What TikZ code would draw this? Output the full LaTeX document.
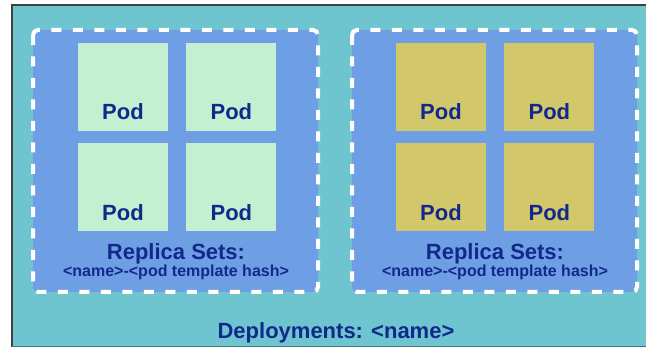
\documentclass[tikz,border=0pt]{standalone}
\usepackage{fontspec}
\setmainfont{Liberation Sans}
\usetikzlibrary{positioning}

\definecolor{deploybg}{HTML}{6EC5CF}
\definecolor{replicabg}{HTML}{6E9FE4}
\definecolor{podgreen}{HTML}{C4EFD1}
\definecolor{podolive}{HTML}{D3C76B}
\definecolor{navytext}{HTML}{12298C}

\begin{document}
\begin{tikzpicture}[
  x=1pt,y=-1pt,
  node distance=12pt and 18pt, % gaps between the pods
  pod/.style={rectangle,inner xsep=0pt,inner ysep=0pt,minimum width=90pt,
    text height=77pt,text depth=11pt,text=navytext,
    font=\bfseries\fontsize{22}{22}\selectfont}, % style of the pods
  replica box/.style={rectangle,fill=replicabg,draw=white,line width=4pt,
    dash pattern=on 10pt off 11.5pt,rounded corners=5pt}, % dashed replica set
  title/.style={text=navytext,font=\bfseries\fontsize{22}{22}\selectfont,inner sep=0pt},
  subtitle/.style={text=navytext,font=\bfseries\fontsize{16}{16}\selectfont,inner sep=0pt}
  ]

  \useasboundingbox (0,0) rectangle (646,347);

  % deployment frame
  \fill[deploybg] (12,5) rectangle (646,346);
  \draw[black!75,line width=2pt] (646,5) -- (12,5) -- (12,347);
  \draw[deploybg!60!black,line width=1pt] (12,346.5) -- (646,346.5);

  % replica sets
  \draw[replica box] (33,30) rectangle (318,292);
  \draw[replica box] (352,30) rectangle (637,292);

  % old pods
  \node[pod,fill=podgreen] (a1) at (123,87) {Pod};
  \node[pod,fill=podgreen] (a2) [right=of a1] {Pod};
  \node[pod,fill=podgreen] (a3) [below=of a1] {Pod};
  \node[pod,fill=podgreen] (a4) [right=of a3] {Pod};

  % new pods
  \node[pod,fill=podolive] (b1) at (441,87) {Pod};
  \node[pod,fill=podolive] (b2) [right=of b1] {Pod};
  \node[pod,fill=podolive] (b3) [below=of b1] {Pod};
  \node[pod,fill=podolive] (b4) [right=of b3] {Pod};

  % labels
  \node[title,anchor=base] (ra) at (176,260) {Replica Sets:};
  \node[subtitle,anchor=base] (rah) at (176,277) {<name>-<pod template hash>};
  \node[title,anchor=base] (rb) at (495,260) {Replica Sets:};
  \node[subtitle,anchor=base] (rbh) at (495,277) {<name>-<pod template hash>};
  \node[title,anchor=base] (dep) at (336,339) {Deployments: <name>};
\end{tikzpicture}
\end{document}
